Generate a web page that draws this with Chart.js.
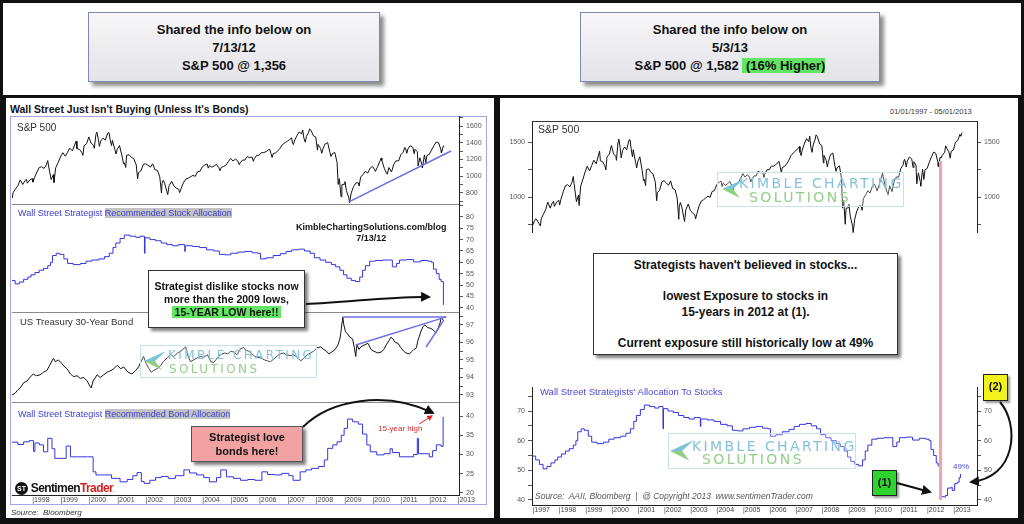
<!DOCTYPE html>
<html>
<head>
<meta charset="utf-8">
<title>Wall Street strategists vs S&amp;P 500</title>
<script src="https://cdn.jsdelivr.net/npm/chart.js@4.4.1/dist/chart.umd.min.js"></script>
<style>
  body { margin: 0; background: #fff; }
  #page { position: relative; width: 1024px; height: 524px; overflow: hidden; background: #fff;
          font-family: 'Liberation Sans', Arial, sans-serif; color: #111; }
  #page > * { position: absolute; white-space: nowrap; }
  .outer { left: 0; top: 0; width: 1024px; height: 524px; border: 3px solid #111; box-sizing: border-box; }
  .panel { border: 3px solid #111; box-sizing: border-box; }
  .hbox { box-sizing: border-box; border: 1.5px solid #7b8bad; background: linear-gradient(#f7f7f9, #e3e3e8);
          box-shadow: 4px 4px 4px rgba(0,0,0,0.45); text-align: center; font-weight: bold; font-size: 13px;
          line-height: 18px; padding-top: 8px; }
  .callout { box-sizing: border-box; border: 1.5px solid #333; background: #fff;
             box-shadow: 3px 3px 3px rgba(0,0,0,0.5); text-align: center; font-weight: bold; }
  .sep { height: 1px; background: #8a8a8a; }
  .kimble { border: 1px solid #c6e0ec; background: rgba(255,255,255,0.25); }
  .kimble > * { position: absolute; white-space: nowrap; }
  .kt1 { color: #84c2d9; letter-spacing: 2.4px; font-family: 'DejaVu Sans', sans-serif; }
  .kt2 { color: #93ce88; letter-spacing: 2.4px; font-family: 'DejaVu Sans', sans-serif; }
  .blue { color: #3b3bd4; }
  .hl { background: #c4c4c4; }
  .green { background: #62e562; }
</style>
</head>
<body>
<div id="page">

  <!-- header boxes -->
  <div class="hbox" style="left:88px;top:12px;width:292px;height:70px">Shared the info below on<br>7/13/12<br>S&amp;P 500 @ 1,356</div>
  <div class="hbox" style="left:580px;top:12px;width:300px;height:70px">Shared the info below on<br>5/3/13<br>S&amp;P 500 @ 1,582 <span class="green">&nbsp;(16% Higher)</span></div>

  <!-- left panel -->
  <div style="left:10px;top:103px;font-weight:bold;font-size:10.5px">Wall Street Just Isn't Buying (Unless It's Bonds)</div>
  <div style="left:10px;top:116px;width:477px;height:389px;border:1px solid #a4a4e6;box-sizing:border-box"></div>
  <canvas id="spxL" width="475" height="88" style="left:12px;top:116px"></canvas>
  <canvas id="stockL" width="475" height="108" style="left:12px;top:204px"></canvas>
  <canvas id="tsyL" width="475" height="90" style="left:12px;top:312px"></canvas>
  <canvas id="bondL" width="475" height="103" style="left:12px;top:402px"></canvas>
  <div class="sep" style="left:12px;top:204px;width:447px"></div>
  <div class="sep" style="left:12px;top:312px;width:447px"></div>
  <div class="sep" style="left:12px;top:402px;width:447px"></div>

  <div style="left:17px;top:122px;font-size:10px;color:#333">S&amp;P 500</div>
  <div class="blue" style="left:18px;top:208px;font-size:9px">Wall Street Strategist <span class="hl">Recommended Stock Allocation</span></div>
  <div style="left:296px;top:222px;font-size:9px;font-weight:bold;text-align:center;line-height:11px">KimbleChartingSolutions.com/blog<br>7/13/12</div>
  <div style="left:20px;top:316px;font-size:9.5px;color:#333">US Treasury 30-Year Bond</div>
  <div class="blue" style="left:18px;top:409px;font-size:9px">Wall Street Strategist <span class="hl">Recommended Bond Allocation</span></div>
  <div style="left:378px;top:424px;font-size:8px;color:#d42a2a">15-year high</div>

  <div class="kimble" style="left:140px;top:345px;width:175px;height:31px">
    <svg width="22" height="20" viewBox="0 0 22 20" style="left:3px;top:5px"><polygon points="0,10 22,0 11,10" fill="#7cc3d9"/><polygon points="0,10 11,10 18,19" fill="#8fcf83"/></svg>
    <div class="kt1" style="left:27px;top:2px;font-size:12px">KIMBLE CHARTING</div>
    <div class="kt2" style="left:28px;top:16px;font-size:12px">SOLUTIONS</div>
  </div>

  <div class="callout" style="left:148px;top:270px;width:157px;height:58px;font-size:10.5px;line-height:13px;padding-top:9px">Strategist dislike stocks now<br>more than the 2009 lows,<br><span class="green">&nbsp;15-YEAR LOW here!!&nbsp;</span></div>
  <div class="callout" style="left:191px;top:426px;width:112px;height:36px;font-size:11px;line-height:14px;padding-top:3px;background:#f2a2a2;border-color:#555">Strategist love<br>bonds here!</div>

  <div style="left:15px;top:481px;font-weight:bold;font-size:12px;letter-spacing:-0.6px">
    <span style="display:inline-block;width:13px;height:13px;border-radius:50%;background:#111;color:#fff;font-size:7px;line-height:13px;text-align:center;vertical-align:middle;letter-spacing:0">ST</span>
    Sentimen<span style="color:#d21f1f">Trader</span><span style="color:#d21f1f;font-size:6px">.</span>
  </div>
  <div style="left:11px;top:508px;font-size:8px;font-style:italic;color:#333">Source:&nbsp; Bloomberg</div>

  <!-- right panel -->
  <div style="left:890px;top:107px;font-size:7.5px;color:#333">01/01/1997 - 05/01/2013</div>
  <canvas id="spxR" width="505" height="112" style="left:505px;top:121px"></canvas>
  <div style="left:532px;top:121px;width:445px;height:1px;background:#333"></div>
  <div style="left:538px;top:123px;font-size:10.5px;color:#333">S&amp;P 500</div>
  <canvas id="allocR" width="505" height="128" style="left:505px;top:387px"></canvas>
  <div id="pink" style="left:939px;top:160px;width:3px;height:340px;background:#f4a3ab"></div>

  <div class="kimble" style="left:717px;top:172px;width:185px;height:33px">
    <svg width="26" height="20" viewBox="0 0 22 20" style="left:2px;top:6px"><polygon points="0,10 22,0 11,10" fill="#7cc3d9"/><polygon points="0,10 11,10 18,19" fill="#8fcf83"/></svg>
    <div class="kt1" style="left:21px;top:2px;font-size:14px">KIMBLE CHARTING</div>
    <div class="kt2" style="left:31px;top:16px;font-size:14px">SOLUTIONS</div>
  </div>

  <div class="callout" style="left:593px;top:253px;width:305px;height:102px;font-size:12px;line-height:15.5px;padding-top:4px">Strategists haven't believed in stocks...<br>&nbsp;<br>lowest Exposure to stocks in<br>15-years in 2012 at (1).<br>&nbsp;<br>Current exposure still historically low at 49%</div>

  <div class="blue" style="left:540px;top:386px;font-size:9.5px;color:#4646d6">Wall Street Strategists' Allocation To Stocks</div>
  <div class="kimble" style="left:668px;top:433px;width:186px;height:34px">
    <svg width="24" height="22" viewBox="0 0 22 20" style="left:1px;top:6px"><polygon points="0,10 22,0 11,10" fill="#7cc3d9"/><polygon points="0,10 11,10 18,19" fill="#8fcf83"/></svg>
    <div class="kt1" style="left:23px;top:4px;font-size:14px">KIMBLE CHARTING</div>
    <div class="kt2" style="left:33px;top:17px;font-size:14px">SOLUTIONS</div>
  </div>
  <div style="left:535px;top:491px;font-size:8.5px;font-style:italic;color:#555">Source:&nbsp; AAII, Bloomberg&nbsp; |&nbsp; @ Copyright 2013&nbsp; www.sentimenTrader.com</div>
  <div style="left:953px;top:462px;font-size:8px;color:#4646d6">49%</div>

  <div class="callout" style="left:872px;top:470px;width:25px;height:26px;font-size:11px;line-height:22px;background:#2fd42f;border-color:#222;box-shadow:2px 2px 2px rgba(0,0,0,0.4)">(1)</div>
  <div class="callout" style="left:983px;top:374px;width:25px;height:27px;font-size:11px;line-height:23px;background:#f2f21c;border-color:#222;box-shadow:2px 2px 2px rgba(0,0,0,0.4)">(2)</div>

  <svg width="1024" height="524" style="left:0;top:0">
    <defs>
      <marker id="ah" viewBox="0 0 10 10" refX="8" refY="5" markerWidth="5" markerHeight="5" orient="auto"><path d="M0,0 L10,5 L0,10 z" fill="#111"/></marker>
      <marker id="ahr" viewBox="0 0 10 10" refX="8" refY="5" markerWidth="6" markerHeight="6" orient="auto"><path d="M0,0 L10,5 L0,10 z" fill="#e02424"/></marker>
    </defs>
    <path d="M306,304 C350,302 395,296 429,297" stroke="#111" stroke-width="2" fill="none" marker-end="url(#ah)"/>
    <path d="M303,427 C330,400 385,390 433,413" stroke="#111" stroke-width="2" fill="none" marker-end="url(#ah)"/>
    <path d="M419,424 L432,416" stroke="#e02424" stroke-width="1" fill="none" marker-end="url(#ahr)"/>
    <path d="M897,483 L930,492" stroke="#111" stroke-width="2" fill="none" marker-end="url(#ah)"/>
    <path d="M1000,402 C1020,425 1016,478 971,482" stroke="#111" stroke-width="2" fill="none" marker-end="url(#ah)"/>
  </svg>

  <div class="panel" style="left:3px;top:95px;width:494px;height:426px"></div>
  <div class="panel" style="left:497px;top:95px;width:524px;height:426px"></div>
  <div class="outer"></div>
</div>

<script>
// S&P 500, [decimal year, close]
const spx = [
  [1997.00, 741], [1997.08, 786], [1997.12, 802], [1997.17, 791], [1997.25, 757], [1997.30, 737], [1997.33, 801],
  [1997.42, 848], [1997.50, 885], [1997.58, 954], [1997.67, 899], [1997.75, 947], [1997.80, 960], [1997.83, 915],
  [1997.92, 955], [1998.00, 970],
  [1998.03, 927], [1998.08, 980], [1998.17, 1049], [1998.25, 1102], [1998.33, 1112], [1998.42, 1091], [1998.50, 1134],
  [1998.55, 1186], [1998.58, 1121], [1998.67, 957], [1998.75, 1017], [1998.77, 923], [1998.83, 1099], [1998.92, 1164],
  [1999.00, 1229],
  [1999.08, 1280], [1999.17, 1238], [1999.25, 1286], [1999.33, 1335], [1999.42, 1302], [1999.50, 1373], [1999.55, 1418],
  [1999.58, 1329], [1999.67, 1320], [1999.75, 1283], [1999.79, 1247], [1999.83, 1363], [1999.92, 1389], [2000.00, 1469],
  [2000.08, 1394], [2000.17, 1366], [2000.19, 1333], [2000.25, 1499], [2000.28, 1527], [2000.33, 1452], [2000.37, 1356],
  [2000.42, 1421], [2000.50, 1455], [2000.58, 1431], [2000.67, 1518], [2000.71, 1520], [2000.75, 1437], [2000.80, 1365],
  [2000.83, 1429], [2000.92, 1315], [2000.96, 1265], [2001.00, 1320],
  [2001.08, 1366], [2001.17, 1240], [2001.22, 1150], [2001.25, 1160], [2001.30, 1103], [2001.33, 1249], [2001.42, 1256],
  [2001.50, 1224], [2001.58, 1211], [2001.67, 1134], [2001.72, 966], [2001.75, 1041], [2001.83, 1060], [2001.92, 1139],
  [2002.00, 1148],
  [2002.08, 1130], [2002.17, 1107], [2002.25, 1147], [2002.33, 1077], [2002.42, 1067], [2002.50, 990], [2002.56, 797],
  [2002.58, 912], [2002.62, 950], [2002.67, 916], [2002.75, 815], [2002.78, 777], [2002.83, 886], [2002.92, 936],
  [2003.00, 880],
  [2003.08, 856], [2003.17, 841], [2003.20, 801], [2003.25, 848], [2003.33, 917], [2003.42, 964], [2003.50, 975],
  [2003.58, 990], [2003.67, 1008], [2003.75, 996], [2003.83, 1051], [2003.92, 1058], [2004.00, 1112],
  [2004.08, 1131], [2004.17, 1145], [2004.21, 1095], [2004.25, 1126], [2004.33, 1107], [2004.42, 1121], [2004.50, 1141],
  [2004.58, 1102], [2004.62, 1064], [2004.67, 1104], [2004.75, 1115], [2004.83, 1130], [2004.92, 1174], [2005.00, 1212],
  [2005.08, 1181], [2005.17, 1204], [2005.25, 1181], [2005.30, 1137], [2005.33, 1157], [2005.42, 1192], [2005.50, 1191],
  [2005.58, 1234], [2005.67, 1220], [2005.75, 1229], [2005.80, 1177], [2005.83, 1207], [2005.92, 1249], [2006.00, 1248],
  [2006.08, 1280], [2006.17, 1281], [2006.25, 1295], [2006.33, 1311], [2006.37, 1325], [2006.42, 1270], [2006.46, 1223],
  [2006.50, 1270], [2006.58, 1277], [2006.67, 1304], [2006.75, 1336], [2006.83, 1378], [2006.92, 1401], [2007.00, 1418],
  [2007.08, 1438], [2007.15, 1459], [2007.17, 1407], [2007.21, 1377], [2007.25, 1421], [2007.33, 1482], [2007.42, 1531],
  [2007.50, 1503], [2007.54, 1553], [2007.58, 1455], [2007.63, 1406], [2007.67, 1474], [2007.75, 1527], [2007.78, 1565],
  [2007.83, 1549], [2007.92, 1481], [2008.00, 1468],
  [2008.06, 1310], [2008.08, 1379], [2008.17, 1331], [2008.21, 1273], [2008.25, 1323], [2008.33, 1386], [2008.42, 1400],
  [2008.50, 1280], [2008.54, 1234], [2008.58, 1267], [2008.67, 1283], [2008.75, 1165], [2008.79, 899], [2008.83, 969],
  [2008.89, 752], [2008.92, 896], [2009.00, 903],
  [2009.03, 934], [2009.08, 826], [2009.17, 735], [2009.19, 677], [2009.25, 798], [2009.33, 873], [2009.42, 919],
  [2009.50, 919], [2009.53, 880], [2009.58, 987], [2009.67, 1021], [2009.75, 1057], [2009.83, 1036], [2009.92, 1096],
  [2010.00, 1115],
  [2010.08, 1074], [2010.10, 1056], [2010.17, 1104], [2010.25, 1169], [2010.31, 1217], [2010.33, 1187], [2010.42, 1089],
  [2010.50, 1031], [2010.52, 1022], [2010.58, 1102], [2010.67, 1049], [2010.75, 1141], [2010.83, 1183], [2010.92, 1181],
  [2011.00, 1258],
  [2011.08, 1286], [2011.14, 1343], [2011.17, 1327], [2011.21, 1273], [2011.25, 1326], [2011.33, 1364], [2011.42, 1345],
  [2011.47, 1268], [2011.50, 1321], [2011.58, 1292], [2011.61, 1120], [2011.67, 1219], [2011.75, 1131], [2011.76, 1099],
  [2011.83, 1253], [2011.88, 1159], [2011.92, 1247], [2012.00, 1258],
  [2012.08, 1312], [2012.17, 1366], [2012.25, 1408], [2012.33, 1398], [2012.42, 1310], [2012.43, 1278], [2012.50, 1362],
  [2012.53, 1356], [2012.58, 1379], [2012.67, 1407], [2012.71, 1465], [2012.75, 1441], [2012.83, 1412], [2012.88, 1353],
  [2012.92, 1416], [2013.00, 1426],
  [2013.08, 1498], [2013.17, 1515], [2013.25, 1569], [2013.29, 1552], [2013.33, 1585]
];

// Wall Street strategists' recommended stock allocation, %
const stockAlloc = [
  [1997.00, 54.8], [1997.12, 53.5], [1997.26, 52.0], [1997.40, 50.5], [1997.55, 51.3], [1997.70, 52.5], [1997.85, 53.5],
  [1997.96, 54.5], [1998.10, 55.5], [1998.25, 56.5], [1998.40, 57.3], [1998.55, 58.5], [1998.65, 60.0], [1998.72, 63.0],
  [1998.85, 64.0], [1998.97, 63.5], [1999.12, 61.5], [1999.25, 59.5], [1999.45, 59.0], [1999.70, 59.5], [1999.90, 60.5],
  [2000.10, 61.0], [2000.35, 61.5], [2000.55, 62.5], [2000.72, 64.0], [2000.85, 66.5], [2000.95, 68.5], [2001.10, 70.5],
  [2001.25, 72.0], [2001.45, 71.5], [2001.65, 71.0], [2001.80, 71.5], [2001.96, 64.0], [2001.98, 70.8], [2002.15, 70.0],
  [2002.35, 69.5], [2002.55, 68.5], [2002.75, 67.8], [2002.95, 67.3], [2003.15, 67.8], [2003.38, 64.8], [2003.40, 67.3],
  [2003.65, 67.0], [2003.90, 66.5], [2004.15, 65.5], [2004.40, 65.0], [2004.60, 63.5], [2004.80, 63.3], [2005.00, 64.0],
  [2005.25, 64.5], [2005.50, 64.8], [2005.75, 64.2], [2005.95, 64.0], [2006.05, 61.5], [2006.25, 62.0], [2006.50, 63.0],
  [2006.75, 63.8], [2006.95, 64.8], [2007.15, 65.5], [2007.40, 65.8], [2007.60, 65.0], [2007.80, 64.0], [2007.95, 62.0],
  [2008.15, 61.0], [2008.35, 60.0], [2008.55, 59.0], [2008.70, 58.0], [2008.85, 56.5], [2008.98, 54.5], [2009.10, 53.0],
  [2009.25, 52.0], [2009.40, 51.5], [2009.55, 53.5], [2009.65, 56.5], [2009.75, 58.5], [2009.90, 60.5], [2010.10, 60.8],
  [2010.35, 61.0], [2010.60, 61.0], [2010.70, 58.0], [2010.85, 59.5], [2010.95, 61.0], [2011.20, 61.2], [2011.45, 60.2],
  [2011.70, 60.8], [2011.95, 60.5], [2012.08, 60.0], [2012.15, 57.0], [2012.25, 55.0], [2012.35, 52.5], [2012.42, 51.5],
  [2012.50, 41.2], [2012.62, 41.0], [2012.70, 41.5], [2012.78, 44.0], [2012.92, 44.3], [2012.96, 43.2], [2013.05, 45.5],
  [2013.15, 46.0], [2013.22, 47.5], [2013.27, 48.8]
];

// Wall Street strategists' recommended bond allocation, %
const bondAlloc = [
  [1997.25, 33.2], [1997.50, 32.6], [1997.70, 33.3], [1997.90, 33.6], [1998.05, 30.8], [1998.10, 33.0], [1998.25, 32.5],
  [1998.40, 30.7], [1998.55, 34.2], [1998.70, 31.5], [1998.80, 29.0], [1999.05, 29.0], [1999.20, 32.2], [1999.35, 29.4],
  [1999.60, 29.4], [1999.95, 29.4], [2000.15, 25.5], [2000.25, 24.7], [2000.55, 24.7], [2000.80, 23.8], [2001.10, 22.9],
  [2001.35, 23.5], [2001.55, 24.5], [2001.70, 25.3], [2001.85, 23.0], [2001.95, 22.5], [2002.15, 23.3], [2002.35, 24.0],
  [2002.55, 24.3], [2002.80, 23.8], [2003.05, 24.5], [2003.35, 26.0], [2003.55, 25.2], [2003.80, 24.7], [2004.05, 24.0],
  [2004.25, 22.9], [2004.50, 24.0], [2004.65, 26.0], [2004.85, 24.2], [2005.10, 23.8], [2005.35, 23.3], [2005.60, 23.5],
  [2005.85, 23.3], [2006.10, 25.5], [2006.30, 24.8], [2006.55, 24.7], [2006.80, 25.1], [2007.05, 24.5], [2007.20, 23.3],
  [2007.45, 25.5], [2007.65, 26.0], [2007.85, 26.4], [2008.10, 26.9], [2008.30, 28.6], [2008.42, 31.6], [2008.60, 32.5],
  [2008.75, 33.3], [2008.90, 35.0], [2009.00, 36.8], [2009.12, 39.2], [2009.30, 38.5], [2009.50, 37.9], [2009.65, 35.3],
  [2009.80, 32.5], [2009.92, 30.7], [2010.15, 29.9], [2010.40, 30.2], [2010.62, 31.5], [2010.70, 30.5], [2010.95, 29.4],
  [2011.25, 29.4], [2011.45, 30.0], [2011.58, 34.2], [2011.62, 30.2], [2011.85, 30.2], [2012.00, 29.4], [2012.12, 31.0],
  [2012.25, 32.5], [2012.42, 32.1], [2012.49, 39.8]
];

// US Treasury 30-year bond price
const tsy30 = [
  [1997.29, 93.0], [1997.40, 93.1], [1997.50, 93.3], [1997.58, 93.4], [1997.70, 93.7], [1997.82, 93.8], [1997.92, 94.0],
  [1998.04, 94.2], [1998.15, 94.1], [1998.28, 94.15], [1998.40, 94.3], [1998.52, 94.4], [1998.62, 94.7], [1998.75, 95.1],
  [1998.82, 94.9], [1998.92, 95.0], [1999.05, 94.8], [1999.15, 94.6], [1999.23, 94.5], [1999.35, 94.2], [1999.46, 94.05],
  [1999.58, 94.1], [1999.70, 93.95], [1999.82, 94.0], [1999.94, 93.8], [2000.04, 93.5], [2000.08, 93.4], [2000.15, 93.8],
  [2000.29, 94.15], [2000.40, 94.0], [2000.52, 94.15], [2000.65, 94.3], [2000.78, 94.4], [2000.88, 94.5], [2001.00, 94.7],
  [2001.12, 94.5], [2001.23, 94.6], [2001.38, 94.3], [2001.52, 94.2], [2001.65, 94.4], [2001.75, 94.6], [2001.93, 95.2],
  [2002.02, 94.8], [2002.12, 94.5], [2002.20, 94.3], [2002.28, 94.4], [2002.40, 94.5], [2002.52, 94.65], [2002.62, 94.9],
  [2002.75, 95.1], [2002.88, 95.3], [2003.00, 95.2], [2003.12, 95.4], [2003.25, 95.5], [2003.41, 95.75], [2003.48, 95.3],
  [2003.58, 94.9], [2003.69, 95.0], [2003.80, 95.1], [2003.92, 95.2], [2004.05, 95.15], [2004.18, 95.3], [2004.30, 94.9],
  [2004.40, 94.85], [2004.52, 95.1], [2004.64, 95.3], [2004.78, 95.4], [2004.90, 95.35], [2005.00, 95.5], [2005.12, 95.45],
  [2005.22, 95.3], [2005.35, 95.65], [2005.45, 95.7], [2005.55, 95.55], [2005.64, 95.5], [2005.75, 95.35], [2005.85, 95.2],
  [2005.95, 95.15], [2006.08, 95.1], [2006.20, 95.0], [2006.30, 94.95], [2006.40, 94.9], [2006.52, 95.05], [2006.65, 95.25],
  [2006.75, 95.35], [2006.87, 95.4], [2006.95, 95.3], [2007.10, 95.25], [2007.22, 95.3], [2007.35, 95.15], [2007.47, 94.95],
  [2007.58, 95.1], [2007.70, 95.3], [2007.82, 95.4], [2007.92, 95.5], [2008.05, 95.7], [2008.18, 95.75], [2008.28, 95.6],
  [2008.38, 95.5], [2008.46, 95.35], [2008.56, 95.45], [2008.68, 95.6], [2008.78, 95.85], [2008.85, 96.2], [2008.88, 96.5],
  [2008.93, 97.2], [2008.95, 97.45], [2008.99, 97.0], [2009.05, 96.6], [2009.12, 96.5], [2009.20, 96.3], [2009.30, 96.2],
  [2009.36, 95.7], [2009.41, 95.2], [2009.45, 95.9], [2009.52, 95.6], [2009.59, 95.75], [2009.70, 95.85], [2009.84, 95.95],
  [2009.95, 95.6], [2010.05, 95.5], [2010.19, 95.4], [2010.30, 95.45], [2010.40, 95.6], [2010.50, 95.9], [2010.58, 96.1],
  [2010.65, 96.3], [2010.72, 96.2], [2010.80, 96.0], [2010.90, 95.95], [2011.00, 95.7], [2011.10, 95.5], [2011.18, 95.4],
  [2011.30, 95.35], [2011.40, 95.5], [2011.46, 95.6], [2011.55, 95.7], [2011.60, 96.1], [2011.64, 96.3], [2011.70, 96.6],
  [2011.78, 96.9], [2011.85, 97.0], [2011.95, 96.85], [2012.06, 96.8], [2012.15, 96.7], [2012.24, 96.55], [2012.30, 96.75],
  [2012.38, 97.1], [2012.42, 97.4], [2012.49, 97.3]
];

// hand-drawn trend lines, in data units
const spxTrend = [[2009.17, 690], [2012.77, 1300]];
const tsyTop = [[2008.95, 97.46], [2012.60, 97.46]];
const tsyRise = [[2009.41, 95.86], [2012.60, 97.46]];
const tsySteep = [[2011.89, 95.74], [2012.52, 97.29]];

const firstShared = 2012.53;   // 7/13/12
const pinkDate = 2012.5;
const pinkFrom = 1330;

// labelled ticks
const spxLeftTicks = [800, 1000, 1200, 1400, 1600];
const stockLeftTicks = [40, 45, 50, 55, 60, 65, 70, 75, 80];
const tsyTicks = [93, 94, 95, 96, 97];
const bondTicks = [20, 25, 30, 35, 40];
const spxRightTicks = [1000, 1500];
const allocRightTicks = [40, 50, 60, 70];

const tickFont = { family: "'Liberation Sans', Arial, sans-serif", size: 7 };

const toXY = pts => pts.map(p => ({ x: p[0], y: p[1] }));
const upTo = (pts, t) => pts.filter(p => p[0] <= t);

function lineSet(pts, color, width, stepped, axis) {
  return { data: toXY(pts), borderColor: color, borderWidth: width, pointRadius: 0, tension: 0,
           fill: false, stepped: !!stepped, yAxisID: axis || 'y' };
}

// tick marks every `step`, labels only where listed
function valueAxis(position, min, max, step, labels, width) {
  return {
    type: 'linear', position, min, max,
    afterBuildTicks: s => {
      const marks = [];
      for (let v = Math.ceil(min / step) * step; v <= max + 1e-9; v += step) marks.push({ value: +v.toFixed(4) });
      s.ticks = marks;
    },
    afterFit: s => { s.width = width; s.paddingTop = 0; s.paddingBottom = 0; },
    border: { display: true, color: '#222', width: 1 },
    grid: { drawOnChartArea: false, drawTicks: true, tickLength: 4, color: '#555' },
    ticks: { autoSkip: false, padding: 3, font: tickFont, color: '#555',
             callback: v => labels.includes(v) ? String(v) : '' }
  };
}

function timeAxis(min, max, show) {
  if (!show) return { type: 'linear', display: false, min, max };
  return {
    type: 'linear', position: 'bottom', min, max,
    afterBuildTicks: s => {
      const marks = [];
      for (let y = Math.ceil(min); y <= max; y++) marks.push({ value: y });
      s.ticks = marks;
    },
    afterFit: s => { s.height = 10; s.paddingLeft = 0; s.paddingRight = 0; },
    border: { display: true, color: '#222', width: 1 },
    grid: { display: false, drawTicks: false },
    ticks: { autoSkip: false, maxRotation: 0, minRotation: 0, align: 'start',
             padding: 1, font: tickFont, color: '#444',
             callback: v => '|' + v }
  };
}

function draw(id, datasets, scales) {
  return new Chart(document.getElementById(id), {
    type: 'line',
    data: { datasets },
    options: {
      responsive: false, animation: false, devicePixelRatio: 1, events: [],
      layout: { padding: 0 },
      plugins: { legend: { display: false }, tooltip: { enabled: false } },
      scales
    }
  });
}

// left panel: four stacked panes, shared time axis
const leftMin = 1997.29, leftMax = 2013.05;

draw('spxL',
  [lineSet(spxTrend, '#6e6ee6', 1.5), lineSet(upTo(spx, firstShared), '#111', 1)],
  { x: timeAxis(leftMin, leftMax, false), y: valueAxis('right', 665, 1720, 100, spxLeftTicks, 28) });

draw('stockL',
  [lineSet(upTo(stockAlloc, firstShared), '#3434e0', 1, true)],
  { x: timeAxis(leftMin, leftMax, false), y: valueAxis('right', 38.1, 85.7, 5, stockLeftTicks, 28) });

draw('tsyL',
  [lineSet(tsyTop, '#6e6ee6', 1.5), lineSet(tsyRise, '#6e6ee6', 1.5), lineSet(tsySteep, '#6e6ee6', 1.5),
   lineSet(tsy30, '#111', 1)],
  { x: timeAxis(leftMin, leftMax, false), y: valueAxis('right', 92.6, 97.74, 0.5, tsyTicks, 28) });

draw('bondL',
  [lineSet(bondAlloc, '#3434e0', 1, true)],
  { x: timeAxis(leftMin, leftMax, true), y: valueAxis('right', 19.48, 43.64, 5, bondTicks, 28) });

// right panel
const rightMin = 1996.98, rightMax = 2013.9;

const spxR = draw('spxR',
  [lineSet(spx, '#111', 1)],
  { x: timeAxis(rightMin, rightMax, false),
    y: valueAxis('left', 673, 1691, 250, spxRightTicks, 27),
    y2: valueAxis('right', 673, 1691, 250, spxRightTicks, 33) });

const allocR = draw('allocR',
  [lineSet(stockAlloc, '#3434e0', 1, true)],
  { x: timeAxis(rightMin, rightMax, true),
    y: valueAxis('left', 38.3, 78.1, 5, allocRightTicks, 27),
    y2: valueAxis('right', 38.3, 78.1, 5, allocRightTicks, 33) });

// pink marker through both right panes
const pink = document.getElementById('pink');
const pinkX = 505 + spxR.scales.x.getPixelForValue(pinkDate);
const pinkTop = 121 + spxR.scales.y.getPixelForValue(pinkFrom);
const pinkBottom = 387 + allocR.scales.y.getPixelForValue(40);
pink.style.left = (pinkX - 1.5) + 'px';
pink.style.top = pinkTop + 'px';
pink.style.height = (pinkBottom - pinkTop) + 'px';
</script>
</body>
</html>
